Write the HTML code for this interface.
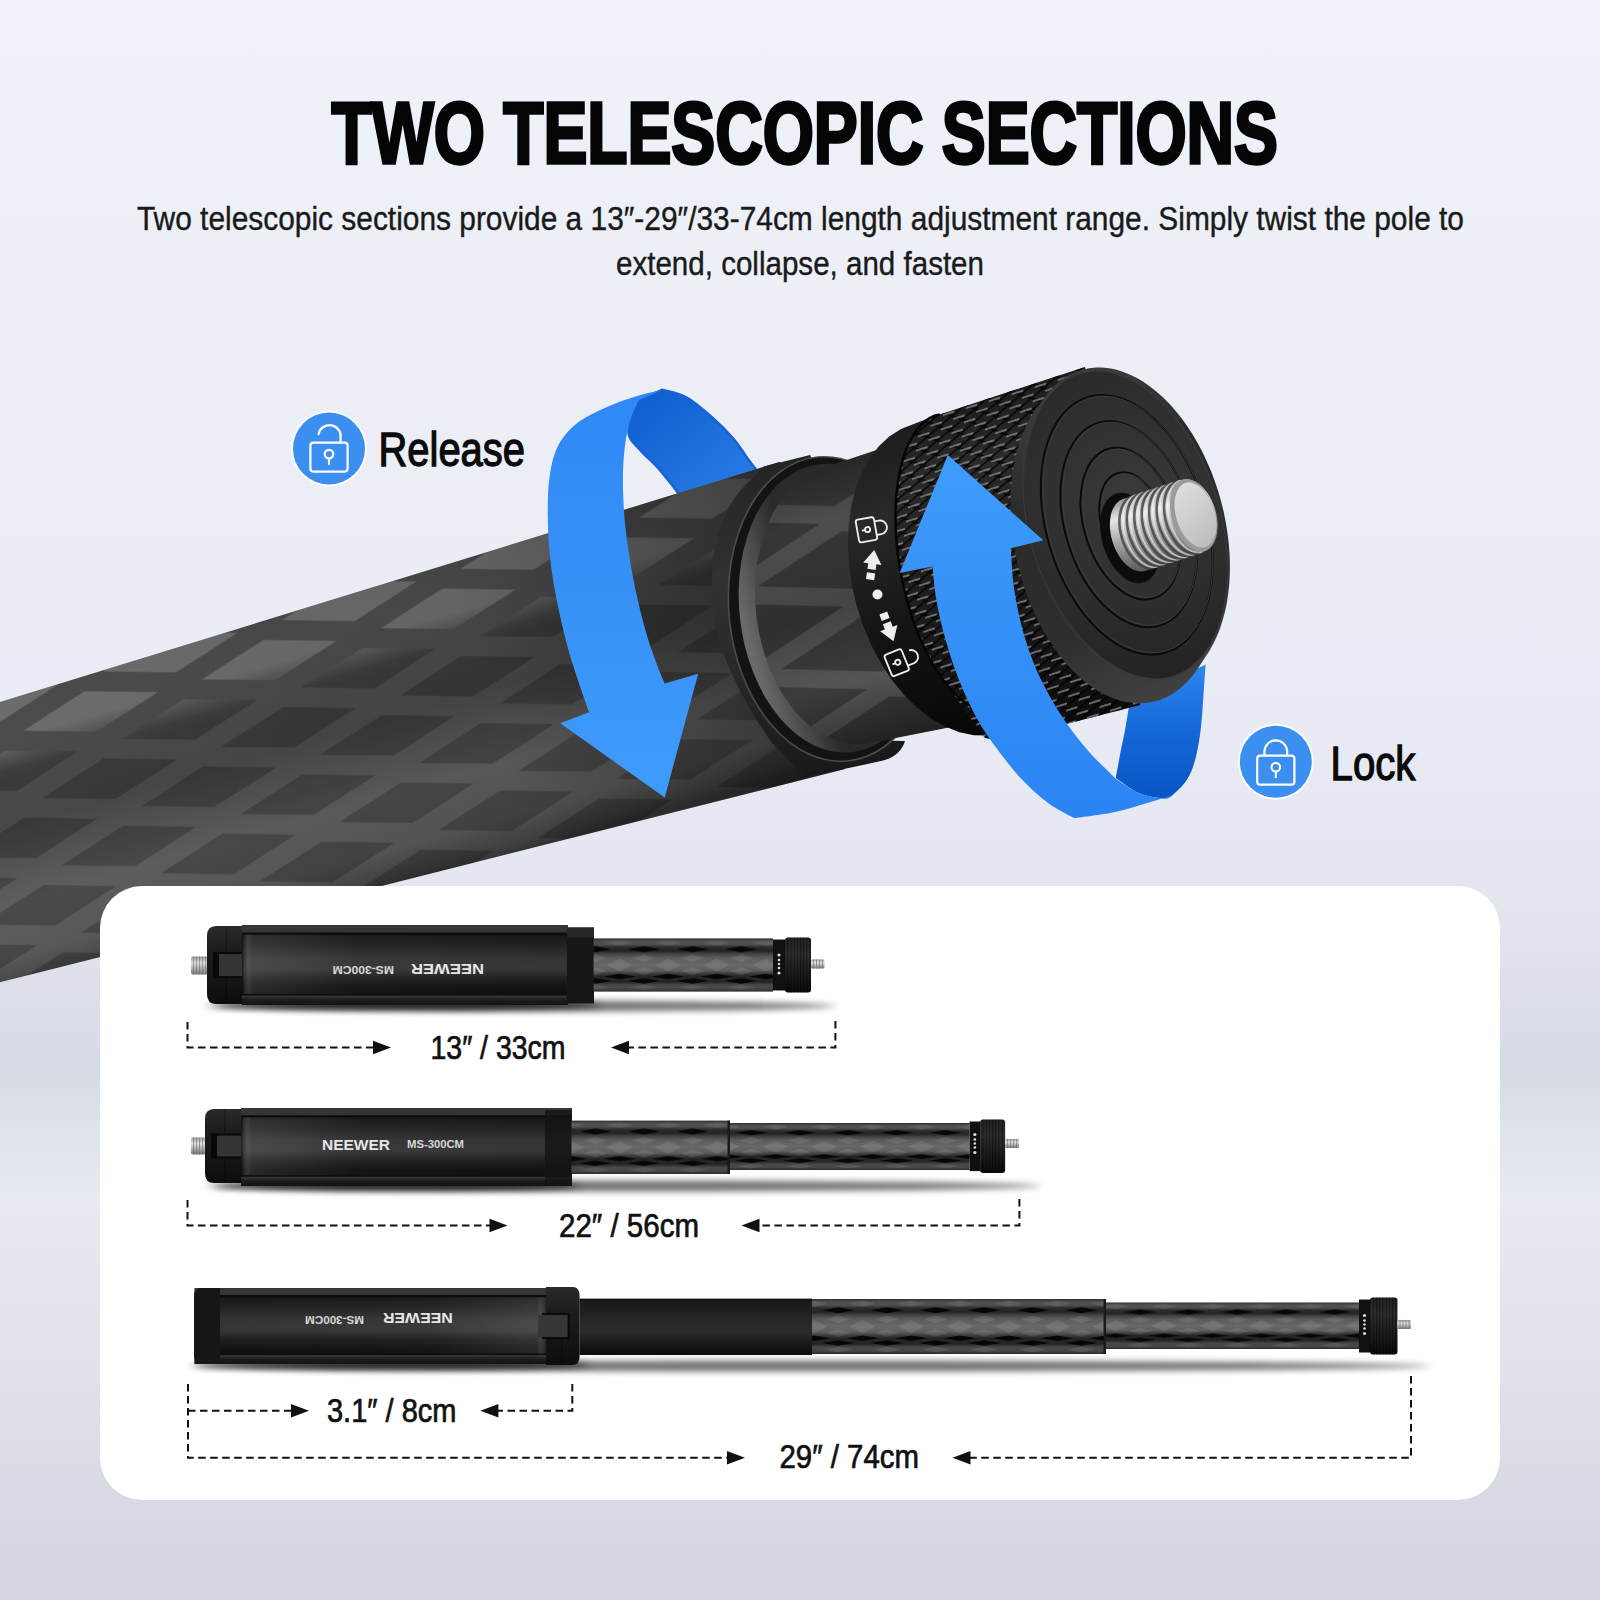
<!DOCTYPE html>
<html><head><meta charset="utf-8"><title>Two Telescopic Sections</title>
<style>
html,body{margin:0;padding:0;background:#e9edf5;}
body{width:1600px;height:1600px;overflow:hidden;font-family:"Liberation Sans", sans-serif;}
svg{display:block}
text{font-family:"Liberation Sans", sans-serif;}
</style></head><body>
<svg width="1600" height="1600" viewBox="0 0 1600 1600">
<defs>
<linearGradient id="bg" x1="0" y1="0" x2="0" y2="1"><stop offset="0.0000" stop-color="#eff2f8"/><stop offset="0.4375" stop-color="#e9ecf4"/><stop offset="0.5625" stop-color="#e3e6ee"/><stop offset="0.6250" stop-color="#dcdfe7"/><stop offset="0.6687" stop-color="#d6dae2"/><stop offset="0.7063" stop-color="#dfe3ea"/><stop offset="0.7500" stop-color="#e7eaf1"/><stop offset="0.8438" stop-color="#e0e3ea"/><stop offset="0.9375" stop-color="#d8dbe3"/><stop offset="1.0000" stop-color="#d3d6de"/></linearGradient>
<radialGradient id="vig" cx="0.5" cy="0.4" r="0.75"><stop offset="0.6" stop-color="#c8cfdb" stop-opacity="0"/><stop offset="1" stop-color="#c0c8d6" stop-opacity="0.10"/></radialGradient>

<linearGradient id="tubeG" gradientUnits="userSpaceOnUse" x1="400" y1="575" x2="482" y2="862">
 <stop offset="0" stop-color="#4a4a4a"/><stop offset="0.10" stop-color="#4c4c4c"/><stop offset="0.28" stop-color="#4a4a4a"/>
 <stop offset="0.45" stop-color="#484848"/><stop offset="0.7" stop-color="#5e5e5e"/><stop offset="0.88" stop-color="#585858"/><stop offset="0.97" stop-color="#444"/><stop offset="1" stop-color="#383838"/>
</linearGradient>
<linearGradient id="tubeDark" gradientUnits="userSpaceOnUse" x1="0" y1="800" x2="800" y2="560">
 <stop offset="0" stop-color="#000" stop-opacity="0"/><stop offset="0.6" stop-color="#000" stop-opacity="0.08"/><stop offset="1" stop-color="#000" stop-opacity="0.42"/>
</linearGradient>
<pattern id="carbonD" width="186" height="70" patternUnits="userSpaceOnUse" patternTransform="translate(30,838) rotate(-16)">
 <path d="M23.0,35.0 L93.0,14.0 L163.0,35.0 L93.0,56.0 Z M-70,0 L0,-21 L70,0 L0,21 Z M116,0 L186,-21 L256,0 L186,21 Z M-70,70 L0,49 L70,70 L0,91 Z M116,70 L186,49 L256,70 L186,91 Z" fill="#000" fill-opacity="0.21"/>
</pattern>
<pattern id="carbonL" width="186" height="70" patternUnits="userSpaceOnUse" patternTransform="translate(30,838) rotate(-16)">
 <path d="M23.0,35.0 L93.0,14.0 L163.0,35.0 L93.0,56.0 Z M-70,0 L0,-21 L70,0 L0,21 Z M116,0 L186,-21 L256,0 L186,21 Z M-70,70 L0,49 L70,70 L0,91 Z M116,70 L186,49 L256,70 L186,91 Z" fill="#fff" fill-opacity="0.19"/>
</pattern>
<linearGradient id="mTopG" gradientUnits="userSpaceOnUse" x1="400" y1="575" x2="482" y2="862">
 <stop offset="0" stop-color="#fff"/><stop offset="0.17" stop-color="#fff"/><stop offset="0.27" stop-color="#000"/><stop offset="1" stop-color="#000"/>
</linearGradient>
<linearGradient id="mBotG" gradientUnits="userSpaceOnUse" x1="400" y1="575" x2="482" y2="862">
 <stop offset="0" stop-color="#000"/><stop offset="0.17" stop-color="#000"/><stop offset="0.30" stop-color="#fff"/><stop offset="1" stop-color="#fff"/>
</linearGradient>
<mask id="mTop" maskUnits="userSpaceOnUse" x="-10" y="300" width="1000" height="800"><rect x="-10" y="300" width="1000" height="800" fill="url(#mTopG)"/></mask>
<mask id="mBot" maskUnits="userSpaceOnUse" x="-10" y="300" width="1000" height="800"><rect x="-10" y="300" width="1000" height="800" fill="url(#mBotG)"/></mask>
<linearGradient id="blueFront" x1="0" y1="0" x2="0" y2="1"><stop offset="0" stop-color="#2f88f4"/><stop offset="1" stop-color="#3f9bfb"/></linearGradient>
<linearGradient id="blueFrontR" x1="0" y1="0" x2="0" y2="1"><stop offset="0" stop-color="#3f9bfb"/><stop offset="1" stop-color="#2a84f2"/></linearGradient>
<linearGradient id="blueBack" x1="0" y1="0" x2="1" y2="1"><stop offset="0" stop-color="#0c5ccb"/><stop offset="1" stop-color="#2b7fe9"/></linearGradient>
<linearGradient id="blueBack2" x1="0" y1="0" x2="0" y2="1"><stop offset="0" stop-color="#2e86ee"/><stop offset="0.5" stop-color="#1467d8"/><stop offset="1" stop-color="#0855c4"/></linearGradient>
<linearGradient id="knobG" gradientUnits="userSpaceOnUse" x1="960" y1="400" x2="1060" y2="740">
 <stop offset="0" stop-color="#1c1c1c"/><stop offset="0.18" stop-color="#2b2b2b"/><stop offset="0.45" stop-color="#1f1f1f"/><stop offset="0.8" stop-color="#141414"/><stop offset="1" stop-color="#0b0b0b"/>
</linearGradient>
<linearGradient id="ringG" gradientUnits="userSpaceOnUse" x1="880" y1="440" x2="960" y2="740">
 <stop offset="0" stop-color="#1e1e1e"/><stop offset="0.25" stop-color="#292929"/><stop offset="0.6" stop-color="#141414"/><stop offset="1" stop-color="#070707"/>
</linearGradient>
<linearGradient id="innerG" gradientUnits="userSpaceOnUse" x1="840" y1="455" x2="920" y2="740">
 <stop offset="0" stop-color="#363636"/><stop offset="0.2" stop-color="#4e4e4e"/><stop offset="0.5" stop-color="#444"/><stop offset="0.75" stop-color="#555"/><stop offset="1" stop-color="#2c2c2c"/>
</linearGradient>
<linearGradient id="collarG" gradientUnits="userSpaceOnUse" x1="760" y1="470" x2="830" y2="780">
 <stop offset="0" stop-color="#242424"/><stop offset="0.3" stop-color="#323232"/><stop offset="0.6" stop-color="#282828"/><stop offset="1" stop-color="#181818"/>
</linearGradient>
<linearGradient id="gapG" gradientUnits="userSpaceOnUse" x1="740" y1="600" x2="800" y2="590">
 <stop offset="0" stop-color="#6a6a6a"/><stop offset="1" stop-color="#2a2a2a"/>
</linearGradient>
<linearGradient id="rimG" gradientUnits="userSpaceOnUse" x1="1040" y1="400" x2="1180" y2="690">
 <stop offset="0" stop-color="#3c3c3c"/><stop offset="0.3" stop-color="#2a2a2a"/><stop offset="0.7" stop-color="#2e2e2e"/><stop offset="1" stop-color="#414141"/></linearGradient>
<radialGradient id="faceG" gradientUnits="userSpaceOnUse" cx="1140" cy="500" r="190"><stop offset="0" stop-color="#3a3a3a"/><stop offset="0.55" stop-color="#2e2e2e"/><stop offset="1" stop-color="#222"/></radialGradient>
<linearGradient id="screwG" gradientUnits="userSpaceOnUse" x1="1150" y1="490" x2="1170" y2="565">
 <stop offset="0" stop-color="#8e8e8e"/><stop offset="0.25" stop-color="#e6e6e6"/><stop offset="0.55" stop-color="#a6a6a6"/><stop offset="1" stop-color="#565656"/>
</linearGradient>
<linearGradient id="screwTip" gradientUnits="userSpaceOnUse" x1="1175" y1="480" x2="1215" y2="560">
 <stop offset="0" stop-color="#e2e2e2"/><stop offset="1" stop-color="#b4b4b4"/>
</linearGradient>
<pattern id="carbonI" width="230" height="86" patternUnits="userSpaceOnUse" patternTransform="translate(850,560) rotate(-16)">
 <path d="M19.0,43.0 L115.0,13.0 L211.0,43.0 L115.0,73.0 Z M-96,0 L0,-30 L96,0 L0,30 Z M134,0 L230,-30 L326,0 L230,30 Z M-96,86 L0,56 L96,86 L0,116 Z M134,86 L230,56 L326,86 L230,116 Z" fill="#000" fill-opacity="0.30"/>
</pattern>
<pattern id="knurl" width="24" height="13" patternUnits="userSpaceOnUse" patternTransform="rotate(-17) skewX(-25)">
 <path d="M0,0 L24,13 M0,13 L24,0" stroke="#000" stroke-width="1.8" stroke-opacity="0.8"/>
 <path d="M2,3.2 L14,3.2 M14,9.7 L26,9.7 M-10,9.7 L2,9.7" stroke="#9a9a9a" stroke-width="1.7" stroke-opacity="0.75"/>
</pattern>

<clipPath id="collarClip"><path d="M600,300 L1000,300 L1000,731.1 L600,832.0 Z"/></clipPath>

<linearGradient id="bodyG" x1="0" y1="0" x2="0" y2="1">
 <stop offset="0" stop-color="#363636"/><stop offset="0.09" stop-color="#343434"/><stop offset="0.10" stop-color="#060606"/><stop offset="0.14" stop-color="#181818"/>
 <stop offset="0.28" stop-color="#242424"/><stop offset="0.42" stop-color="#343434"/><stop offset="0.55" stop-color="#363636"/><stop offset="0.68" stop-color="#1e1e1e"/><stop offset="0.8" stop-color="#111"/>
 <stop offset="0.875" stop-color="#0e0e0e"/><stop offset="0.89" stop-color="#363636"/><stop offset="0.93" stop-color="#1e1e1e"/><stop offset="1" stop-color="#141414"/>
</linearGradient>
<linearGradient id="bodyHL" x1="0" y1="0" x2="1" y2="0">
 <stop offset="0" stop-color="#000" stop-opacity="0.5"/><stop offset="0.03" stop-color="#fff" stop-opacity="0.10"/><stop offset="0.35" stop-color="#fff" stop-opacity="0.02"/><stop offset="1" stop-color="#fff" stop-opacity="0"/>
</linearGradient>
<linearGradient id="bodyHLr" x1="1" y1="0" x2="0" y2="0">
 <stop offset="0" stop-color="#000" stop-opacity="0.5"/><stop offset="0.03" stop-color="#fff" stop-opacity="0.10"/><stop offset="0.35" stop-color="#fff" stop-opacity="0.02"/><stop offset="1" stop-color="#fff" stop-opacity="0"/>
</linearGradient>
<linearGradient id="capG" x1="0" y1="0" x2="0" y2="1">
 <stop offset="0" stop-color="#2a2a2a"/><stop offset="0.3" stop-color="#1d1d1d"/><stop offset="1" stop-color="#0d0d0d"/>
</linearGradient>
<linearGradient id="cfG" x1="0" y1="0" x2="0" y2="1">
 <stop offset="0" stop-color="#2e2e2e"/><stop offset="0.05" stop-color="#505050"/><stop offset="0.12" stop-color="#4c4c4c"/><stop offset="0.165" stop-color="#2c2c2c"/>
 <stop offset="0.235" stop-color="#242424"/><stop offset="0.29" stop-color="#424242"/><stop offset="0.36" stop-color="#5a5a5a"/><stop offset="0.5" stop-color="#686868"/>
 <stop offset="0.6" stop-color="#5e5e5e"/><stop offset="0.66" stop-color="#3c3c3c"/><stop offset="0.72" stop-color="#242424"/><stop offset="0.82" stop-color="#262626"/>
 <stop offset="0.875" stop-color="#484848"/><stop offset="0.95" stop-color="#454545"/><stop offset="1" stop-color="#2a2a2a"/>
</linearGradient>
<linearGradient id="sleeveG" x1="0" y1="0" x2="0" y2="1">
 <stop offset="0" stop-color="#161616"/><stop offset="0.4" stop-color="#272727"/><stop offset="0.6" stop-color="#2a2a2a"/><stop offset="0.85" stop-color="#151515"/><stop offset="1" stop-color="#0c0c0c"/>
</linearGradient>
<linearGradient id="sknobG" x1="0" y1="0" x2="0" y2="1">
 <stop offset="0" stop-color="#222"/><stop offset="0.3" stop-color="#2e2e2e"/><stop offset="1" stop-color="#0a0a0a"/>
</linearGradient>
<linearGradient id="sscrewG" x1="0" y1="0" x2="0" y2="1">
 <stop offset="0" stop-color="#9a9a9a"/><stop offset="0.35" stop-color="#e4e4e4"/><stop offset="1" stop-color="#777"/>
</linearGradient>
<pattern id="cfP" width="48" height="30" patternUnits="userSpaceOnUse">
 <path d="M0,15 L24,5 L48,15 L24,25 Z" fill="#fff" fill-opacity="0.10"/>
 <path d="M-24,0 L0,-10 L24,0 L0,10 Z M24,0 L48,-10 L72,0 L48,10 Z M-24,30 L0,20 L24,30 L0,40 Z M24,30 L48,20 L72,30 L48,40 Z" fill="#000" fill-opacity="0.35"/>
</pattern>
<filter id="shBlur" x="-10%" y="-200%" width="120%" height="500%"><feGaussianBlur stdDeviation="5 3"/></filter>
<pattern id="sknurl" width="3.2" height="80" patternUnits="userSpaceOnUse"><rect x="0" y="0" width="1.1" height="80" fill="#000" fill-opacity="0.45"/></pattern>

<pattern id="cf1" width="48.6" height="73.20" patternUnits="userSpaceOnUse" patternTransform="translate(0,938.4)">
 <path d="M-4.37,10.91 L12.15,7.98 L28.67,10.91 L12.15,13.83 Z M44.23,10.91 L60.75,7.98 L77.27,10.91 L60.75,13.83 Z M19.93,38.04 L36.45,35.38 L52.97,38.04 L36.45,40.70 Z M-28.67,38.04 L-12.15,35.38 L4.37,38.04 L-12.15,40.70 Z M-4.37,42.56 L12.15,39.90 L28.67,42.56 L12.15,45.22 Z M44.23,42.56 L60.75,39.90 L77.27,42.56 L60.75,45.22 Z" fill="#040404" fill-opacity="0.95"/>
 <path d="M23.33,26.60 L36.45,20.22 L49.57,26.60 L36.45,32.98 Z M0.49,19.68 L12.15,15.96 L23.81,19.68 L12.15,23.41 Z M0.49,32.98 L12.15,29.26 L23.81,32.98 L12.15,36.71 Z M49.09,19.68 L60.75,15.96 L72.41,19.68 L60.75,23.41 Z M49.09,32.98 L60.75,29.26 L72.41,32.98 L60.75,36.71 Z M21.87,4.52 L36.45,1.86 L51.03,4.52 L36.45,7.18 Z M-2.43,48.94 L12.15,46.28 L26.73,48.94 L12.15,51.60 Z M46.17,48.94 L60.75,46.28 L75.33,48.94 L60.75,51.60 Z" fill="#fff" fill-opacity="0.09"/>
</pattern>
<pattern id="cf2a" width="48.6" height="73.40" patternUnits="userSpaceOnUse" patternTransform="translate(0,1120.6)">
 <path d="M-4.37,10.95 L12.15,8.01 L28.67,10.95 L12.15,13.88 Z M44.23,10.95 L60.75,8.01 L77.27,10.95 L60.75,13.88 Z M19.93,38.18 L36.45,35.51 L52.97,38.18 L36.45,40.85 Z M-28.67,38.18 L-12.15,35.51 L4.37,38.18 L-12.15,40.85 Z M-4.37,42.72 L12.15,40.05 L28.67,42.72 L12.15,45.39 Z M44.23,42.72 L60.75,40.05 L77.27,42.72 L60.75,45.39 Z" fill="#040404" fill-opacity="0.95"/>
 <path d="M23.33,26.70 L36.45,20.29 L49.57,26.70 L36.45,33.11 Z M0.49,19.76 L12.15,16.02 L23.81,19.76 L12.15,23.50 Z M0.49,33.11 L12.15,29.37 L23.81,33.11 L12.15,36.85 Z M49.09,19.76 L60.75,16.02 L72.41,19.76 L60.75,23.50 Z M49.09,33.11 L60.75,29.37 L72.41,33.11 L60.75,36.85 Z M21.87,4.54 L36.45,1.87 L51.03,4.54 L36.45,7.21 Z M-2.43,49.13 L12.15,46.46 L26.73,49.13 L12.15,51.80 Z M46.17,49.13 L60.75,46.46 L75.33,49.13 L60.75,51.80 Z" fill="#fff" fill-opacity="0.09"/>
</pattern>
<pattern id="cf2b" width="48.6" height="67.00" patternUnits="userSpaceOnUse" patternTransform="translate(10,1123)">
 <path d="M-4.37,9.63 L12.15,7.05 L28.67,9.63 L12.15,12.22 Z M44.23,9.63 L60.75,7.05 L77.27,9.63 L60.75,12.22 Z M19.93,33.60 L36.45,31.25 L52.97,33.60 L36.45,35.95 Z M-28.67,33.60 L-12.15,31.25 L4.37,33.60 L-12.15,35.95 Z M-4.37,37.60 L12.15,35.25 L28.67,37.60 L12.15,39.95 Z M44.23,37.60 L60.75,35.25 L77.27,37.60 L60.75,39.95 Z" fill="#040404" fill-opacity="0.95"/>
 <path d="M23.33,23.50 L36.45,17.86 L49.57,23.50 L36.45,29.14 Z M0.49,17.39 L12.15,14.10 L23.81,17.39 L12.15,20.68 Z M0.49,29.14 L12.15,25.85 L23.81,29.14 L12.15,32.43 Z M49.09,17.39 L60.75,14.10 L72.41,17.39 L60.75,20.68 Z M49.09,29.14 L60.75,25.85 L72.41,29.14 L60.75,32.43 Z M21.87,4.00 L36.45,1.65 L51.03,4.00 L36.45,6.35 Z M-2.43,43.24 L12.15,40.89 L26.73,43.24 L12.15,45.59 Z M46.17,43.24 L60.75,40.89 L75.33,43.24 L60.75,45.59 Z" fill="#fff" fill-opacity="0.09"/>
</pattern>
<pattern id="cf3a" width="48.6" height="75.00" patternUnits="userSpaceOnUse" patternTransform="translate(0,1299)">
 <path d="M-4.37,11.27 L12.15,8.25 L28.67,11.27 L12.15,14.30 Z M44.23,11.27 L60.75,8.25 L77.27,11.27 L60.75,14.30 Z M19.93,39.32 L36.45,36.57 L52.97,39.32 L36.45,42.07 Z M-28.67,39.32 L-12.15,36.57 L4.37,39.32 L-12.15,42.07 Z M-4.37,44.00 L12.15,41.25 L28.67,44.00 L12.15,46.75 Z M44.23,44.00 L60.75,41.25 L77.27,44.00 L60.75,46.75 Z" fill="#040404" fill-opacity="0.95"/>
 <path d="M23.33,27.50 L36.45,20.90 L49.57,27.50 L36.45,34.10 Z M0.49,20.35 L12.15,16.50 L23.81,20.35 L12.15,24.20 Z M0.49,34.10 L12.15,30.25 L23.81,34.10 L12.15,37.95 Z M49.09,20.35 L60.75,16.50 L72.41,20.35 L60.75,24.20 Z M49.09,34.10 L60.75,30.25 L72.41,34.10 L60.75,37.95 Z M21.87,4.68 L36.45,1.93 L51.03,4.68 L36.45,7.43 Z M-2.43,50.60 L12.15,47.85 L26.73,50.60 L12.15,53.35 Z M46.17,50.60 L60.75,47.85 L75.33,50.60 L60.75,53.35 Z" fill="#fff" fill-opacity="0.09"/>
</pattern>
<pattern id="cf3b" width="48.6" height="66.50" patternUnits="userSpaceOnUse" patternTransform="translate(10,1302.5)">
 <path d="M-4.37,9.53 L12.15,6.97 L28.67,9.53 L12.15,12.09 Z M44.23,9.53 L60.75,6.97 L77.27,9.53 L60.75,12.09 Z M19.93,33.25 L36.45,30.92 L52.97,33.25 L36.45,35.57 Z M-28.67,33.25 L-12.15,30.92 L4.37,33.25 L-12.15,35.57 Z M-4.37,37.20 L12.15,34.88 L28.67,37.20 L12.15,39.53 Z M44.23,37.20 L60.75,34.88 L77.27,37.20 L60.75,39.53 Z" fill="#040404" fill-opacity="0.95"/>
 <path d="M23.33,23.25 L36.45,17.67 L49.57,23.25 L36.45,28.83 Z M0.49,17.20 L12.15,13.95 L23.81,17.20 L12.15,20.46 Z M0.49,28.83 L12.15,25.57 L23.81,28.83 L12.15,32.09 Z M49.09,17.20 L60.75,13.95 L72.41,17.20 L60.75,20.46 Z M49.09,28.83 L60.75,25.57 L72.41,28.83 L60.75,32.09 Z M21.87,3.95 L36.45,1.63 L51.03,3.95 L36.45,6.28 Z M-2.43,42.78 L12.15,40.45 L26.73,42.78 L12.15,45.11 Z M46.17,42.78 L60.75,40.45 L75.33,42.78 L60.75,45.11 Z" fill="#fff" fill-opacity="0.09"/>
</pattern>
</defs>
<rect width="1600" height="1600" fill="url(#bg)"/>
<path d="M662.0,389.8 C666.1,391.1 678.5,393.0 686.7,397.5 C694.9,402.0 703.7,409.9 711.4,416.7 C719.2,423.6 727.5,431.9 733.4,438.7 C739.4,445.6 743.1,452.4 747.2,458.0 C751.3,463.6 756.3,469.9 758.2,472.3 L679.8,495.1 L679.8,495.1 C678.2,493.0 674.1,487.5 670.2,482.7 C666.3,477.9 661.5,471.7 656.5,466.2 C651.4,460.7 644.6,455.5 640.0,449.7 C635.3,444.0 628.6,440.1 628.4,431.9 C628.2,423.6 636.9,405.5 638.6,400.2 Z" fill="url(#blueBack)" stroke="#1563d6" stroke-width="2.5" stroke-linejoin="round"/>
<path d="M1130.0,701.7 C1129.7,703.1 1129.2,705.3 1128.4,709.9 C1127.6,714.5 1126.5,722.1 1125.1,729.4 C1123.8,736.7 1121.8,745.6 1120.2,753.7 C1118.7,761.9 1116.5,774.1 1115.7,778.1 L1115.7,778.1 C1119.4,780.6 1130.3,789.4 1138.1,792.7 C1145.9,796.1 1156.8,798.0 1162.5,798.4 C1168.2,798.8 1168.2,798.3 1172.2,795.2 C1176.3,792.1 1183.1,785.6 1186.9,779.7 C1190.7,773.9 1192.7,768.6 1195.0,760.2 C1197.3,751.9 1199.2,741.3 1200.7,729.4 C1202.2,717.5 1203.1,699.6 1203.9,688.7 C1204.7,677.9 1205.3,668.4 1205.6,664.4 Z" fill="url(#blueBack2)"/>
<path d="M-5,703.5 L780,461.8 L845,769 L-5,983.5 Z" fill="url(#tubeG)"/>
<path d="M-5,703.5 L780,461.8 L845,769 L-5,983.5 Z" fill="url(#carbonD)" mask="url(#mBot)"/>
<path d="M-5,703.5 L780,461.8 L845,769 L-5,983.5 Z" fill="url(#carbonL)" mask="url(#mTop)"/>
<path d="M-5,703.5 L780,461.8 L845,769 L-5,983.5 Z" fill="url(#tubeDark)"/>
<path d="M764.2,466.5 C759.3,471.7 742.5,486.7 735.0,497.5 C727.5,508.3 722.9,519.5 719.2,531.2 C715.5,543.0 713.7,554.9 712.6,568.0 C711.5,581.1 710.9,596.3 712.5,610.0 C714.1,623.7 716.6,635.0 722.0,650.0 C727.4,665.0 737.0,685.0 745.0,700.0 C753.0,715.0 763.5,730.8 770.0,740.0 C776.5,749.2 778.0,748.8 784.0,755.0 C790.0,761.2 802.3,773.3 806.0,777.0 L884,760.5 Q901,755 905,741 L846,740 L832,500 L810,455 Z" fill="url(#collarG)" clip-path="url(#collarClip)"/>
<ellipse cx="832.6" cy="609.0" rx="103.7" ry="152.7" transform="rotate(-5.70 832.6 609.0)" fill="#131313" stroke="#4c4c4c" stroke-width="1.6"/>
<ellipse cx="835.6" cy="608.2" rx="96.2" ry="144.9" transform="rotate(-6.50 835.6 608.2)" fill="url(#gapG)" />
<path d="M755.1,597.5 L755.4,579.4 L757.3,561.7 L760.8,544.8 L765.8,529.0 L772.2,514.4 L779.9,501.4 L788.8,490.1 L798.7,480.9 L809.4,473.7 L820.9,468.8 L906.4,439.9 L917.6,436.2 L929.5,435.0 L941.6,436.2 L953.8,439.9 L966.0,445.9 L977.8,454.2 L989.1,464.7 L999.8,477.1 L1009.5,491.3 L1018.2,507.0 L1025.7,523.9 L1031.8,541.7 L1036.5,560.2 L1039.8,579.0 L1041.4,597.8 L1041.4,616.3 L1039.9,634.1 L1036.7,651.0 L1032.1,666.7 L1026.0,680.8 L1018.6,693.3 L1009.9,703.7 L1000.2,712.1 L989.6,718.1 L978.4,721.8 L864.4,744.1 L852.2,744.3 L840.0,742.1 L827.9,737.6 L816.2,730.8 L805.0,721.8 L794.6,710.9 L785.0,698.1 L776.6,683.8 L769.4,668.1 L763.6,651.3 L759.2,633.8 L756.4,615.7 Z" fill="url(#innerG)"/>
<path d="M755.1,597.5 L755.4,579.4 L757.3,561.7 L760.8,544.8 L765.8,529.0 L772.2,514.4 L779.9,501.4 L788.8,490.1 L798.7,480.9 L809.4,473.7 L820.9,468.8 L906.4,439.9 L917.6,436.2 L929.5,435.0 L941.6,436.2 L953.8,439.9 L966.0,445.9 L977.8,454.2 L989.1,464.7 L999.8,477.1 L1009.5,491.3 L1018.2,507.0 L1025.7,523.9 L1031.8,541.7 L1036.5,560.2 L1039.8,579.0 L1041.4,597.8 L1041.4,616.3 L1039.9,634.1 L1036.7,651.0 L1032.1,666.7 L1026.0,680.8 L1018.6,693.3 L1009.9,703.7 L1000.2,712.1 L989.6,718.1 L978.4,721.8 L864.4,744.1 L852.2,744.3 L840.0,742.1 L827.9,737.6 L816.2,730.8 L805.0,721.8 L794.6,710.9 L785.0,698.1 L776.6,683.8 L769.4,668.1 L763.6,651.3 L759.2,633.8 L756.4,615.7 Z" fill="url(#carbonI)"/>
<path d="M847.9,545.6 L848.6,525.8 L851.1,506.9 L855.5,489.3 L861.6,473.1 L869.4,458.8 L878.6,446.5 L889.2,436.5 L901.0,428.9 L913.7,423.9 L931.2,417.3 L939.7,414.4 L948.6,414.0 L957.9,416.1 L967.4,420.8 L976.9,427.9 L1010.6,461.8 L1022.7,476.6 L1033.6,493.1 L1043.3,511.0 L1051.4,530.1 L1058.0,550.1 L1062.9,570.5 L1065.9,591.0 L1067.1,611.4 L1066.4,631.2 L1063.9,650.1 L1059.5,667.7 L1053.4,683.9 L1045.7,698.2 L1036.4,710.5 L1025.8,720.5 L1014.0,728.1 L1001.3,733.1 L987.8,735.5 L973.8,735.2 L959.5,732.2 L945.1,726.6 L931.0,718.5 L917.4,708.0 L904.4,695.2 L892.3,680.4 L881.4,664.0 L871.7,646.0 L863.6,626.9 L857.0,606.9 L852.1,586.5 L849.1,566.0 Z" fill="url(#ringG)"/>
<path d="M895.5,517.8 L896.0,499.6 L897.8,482.6 L900.8,466.9 L904.9,452.8 L910.1,440.6 L916.3,430.6 L923.4,422.7 L931.2,417.3 L939.7,414.4 L1085.0,367.0 L1140.0,705.0 L1000.0,741.0 L985.0,738.0 L940.8,676.8 L932.2,663.3 L924.3,648.0 L917.1,631.4 L910.8,613.5 L905.5,594.8 L901.2,575.5 L898.1,556.1 L896.2,536.7 Z" fill="url(#knobG)"/>
<path d="M895.5,517.8 L896.0,499.6 L897.8,482.6 L900.8,466.9 L904.9,452.8 L910.1,440.6 L916.3,430.6 L923.4,422.7 L931.2,417.3 L939.7,414.4 L1085.0,367.0 L1140.0,705.0 L1000.0,741.0 L985.0,738.0 L940.8,676.8 L932.2,663.3 L924.3,648.0 L917.1,631.4 L910.8,613.5 L905.5,594.8 L901.2,575.5 L898.1,556.1 L896.2,536.7 Z" fill="url(#knurl)"/>
<path d="M996.3,711.2 L991.0,711.8 L985.5,711.4 L979.9,710.1 L974.3,707.9 L968.6,704.8 L962.9,700.8 L957.2,696.0 L951.6,690.4 L946.2,683.9 L940.8,676.8 L935.6,668.9 L930.6,660.3 L925.8,651.2 L921.3,641.5 L917.1,631.4 L913.2,620.8 L909.7,609.8 L906.5,598.6 L903.6,587.1 L901.2,575.5 L899.2,563.9 L897.6,552.2 L896.4,540.5 L895.7,529.1 L895.5,517.8 L895.6,506.8 L896.3,496.1 L897.3,485.9 L898.8,476.1 L900.8,466.9 L903.1,458.2 L905.8,450.2 L909.0,442.9 L912.5,436.3 L916.3,430.6 L920.4,425.6 L924.9,421.5 L929.6,418.2 L934.5,415.8 L939.7,414.4" fill="none" stroke="#050505" stroke-width="2.5"/>
<path d="M1010.6,499.1 L1011.0,488.9 L1011.9,478.9 L1013.2,469.1 L1015.0,459.6 L1017.2,450.5 L1019.8,441.7 L1022.9,433.4 L1026.3,425.6 L1030.1,418.2 L1034.3,411.3 L1038.9,405.0 L1044.7,397.2 L1049.3,391.4 L1054.2,386.2 L1059.4,381.6 L1064.9,377.6 L1070.6,374.3 L1076.6,371.6 L1082.8,369.6 L1089.2,368.2 L1095.7,367.5 L1102.4,367.6 L1109.1,368.3 L1115.9,369.6 L1122.8,371.7 L1129.6,374.4 L1136.5,377.8 L1143.3,381.8 L1150.0,386.4 L1156.6,391.7 L1163.1,397.5 L1169.4,403.8 L1175.5,410.7 L1181.4,418.1 L1187.1,426.0 L1192.5,434.3 L1197.6,443.0 L1202.4,452.0 L1206.8,461.4 L1211.0,471.0 L1214.7,480.9 L1218.1,491.0 L1221.0,501.3 L1223.6,511.6 L1225.7,522.0 L1227.4,532.5 L1228.7,542.9 L1229.5,553.2 L1229.9,563.5 L1229.8,573.6 L1229.3,583.4 L1228.3,593.1 L1226.9,602.4 L1225.0,611.5 L1222.7,620.1 L1220.0,628.4 L1216.9,636.2 L1213.4,643.6 L1209.6,650.5 L1197.7,668.7 L1193.1,675.0 L1188.3,680.7 L1183.1,685.8 L1177.6,690.3 L1171.9,694.2 L1165.9,697.4 L1159.7,699.9 L1153.3,701.8 L1146.8,702.9 L1140.1,703.3 L1133.4,703.1 L1126.5,702.1 L1119.7,700.5 L1112.7,698.1 L1105.8,695.1 L1099.0,691.5 L1092.2,687.1 L1085.6,682.2 L1079.0,676.6 L1072.6,670.5 L1066.4,663.8 L1060.5,656.5 L1054.7,648.8 L1049.2,640.6 L1044.0,632.0 L1039.1,622.9 L1034.6,613.6 L1030.4,603.9 L1026.5,593.9 L1023.0,583.7 L1020.0,573.3 L1017.3,562.8 L1015.1,552.1 L1013.3,541.5 L1012.0,530.8 L1011.0,520.1 L1010.6,509.6 Z" fill="url(#rimG)"/>
<ellipse cx="1126.8" cy="524.8" rx="94.8" ry="158.0" transform="rotate(-17.00 1126.8 524.8)" fill="url(#faceG)" />
<ellipse cx="1125.3" cy="525.3" rx="95.4" ry="159.0" transform="rotate(-17.00 1125.3 525.3)" fill="none" stroke="#3a3a3a" stroke-width="1.2"/>
<ellipse cx="1126.8" cy="524.8" rx="80.1" ry="133.5" transform="rotate(-17.00 1126.8 524.8)" fill="none" stroke="#0a0a0a" stroke-width="2"/>
<ellipse cx="1128.0" cy="524.4" rx="79.1" ry="131.9" transform="rotate(-17.00 1128.0 524.4)" fill="none" stroke="#3c3c3c" stroke-width="0.9"/>
<ellipse cx="1128.8" cy="524.2" rx="63.6" ry="106.0" transform="rotate(-17.00 1128.8 524.2)" fill="none" stroke="#0a0a0a" stroke-width="2"/>
<ellipse cx="1130.0" cy="523.8" rx="62.6" ry="104.4" transform="rotate(-17.00 1130.0 523.8)" fill="none" stroke="#3c3c3c" stroke-width="0.9"/>
<ellipse cx="1130.8" cy="523.6" rx="46.8" ry="78.0" transform="rotate(-17.00 1130.8 523.6)" fill="none" stroke="#0a0a0a" stroke-width="2"/>
<ellipse cx="1132.0" cy="523.2" rx="45.8" ry="76.4" transform="rotate(-17.00 1132.0 523.2)" fill="none" stroke="#3c3c3c" stroke-width="0.9"/>
<ellipse cx="1132.8" cy="523.0" rx="31.2" ry="52.0" transform="rotate(-17.00 1132.8 523.0)" fill="none" stroke="#0a0a0a" stroke-width="2"/>
<ellipse cx="1134.0" cy="522.6" rx="30.2" ry="50.4" transform="rotate(-17.00 1134.0 522.6)" fill="none" stroke="#3c3c3c" stroke-width="0.9"/>
<ellipse cx="1130.0" cy="538.0" rx="27.9" ry="46.5" transform="rotate(-17.00 1130.0 538.0)" fill="#0c0c0c" />
<path d="M1109.9,522.8 L1110.3,518.4 L1111.0,514.3 L1112.2,510.6 L1113.8,507.2 L1115.6,504.4 L1117.8,502.1 L1120.3,500.3 L1123.0,499.1 L1182.5,479.6 L1185.4,479.1 L1188.5,479.2 L1191.6,479.9 L1194.8,481.1 L1197.9,483.0 L1201.0,485.5 L1203.9,488.4 L1206.7,491.9 L1209.2,495.7 L1211.5,499.9 L1213.4,504.3 L1215.0,508.9 L1216.3,513.7 L1217.1,518.4 L1217.6,523.1 L1217.6,527.7 L1217.2,532.1 L1216.5,536.2 L1215.3,540.0 L1213.8,543.3 L1211.9,546.1 L1209.7,548.4 L1207.2,550.2 L1204.5,551.4 L1145.0,570.9 L1142.1,571.4 L1139.0,571.3 L1135.9,570.6 L1132.7,569.4 L1129.6,567.5 L1126.5,565.0 L1123.6,562.0 L1120.8,558.6 L1118.3,554.8 L1116.0,550.6 L1114.1,546.2 L1112.5,541.6 L1111.2,536.8 L1110.4,532.1 L1109.9,527.4 Z" fill="url(#screwG)"/>
<path d="M1154.5,567.7 L1151.6,568.3 L1148.5,568.2 L1145.4,567.5 L1142.3,566.2 L1139.1,564.3 L1136.1,561.9 L1133.1,558.9 L1130.4,555.5 L1127.8,551.7 L1125.6,547.5 L1123.6,543.1 L1122.0,538.5 L1120.8,533.7 L1119.9,529.0 L1119.4,524.2 L1119.4,519.6 L1119.8,515.3 L1120.6,511.2 L1121.7,507.4 L1123.3,504.1 L1125.2,501.3 L1127.4,498.9 L1129.8,497.2 L1132.6,496.0" fill="none" stroke="#3e3e3e" stroke-width="2.6" stroke-opacity="0.8"/>
<path d="M1157.9,566.5 L1155.0,567.1 L1151.9,567.0 L1148.8,566.3 L1145.7,565.0 L1142.5,563.1 L1139.5,560.7 L1136.5,557.7 L1133.8,554.3 L1131.2,550.5 L1129.0,546.3 L1127.0,541.9 L1125.4,537.3 L1124.2,532.5 L1123.3,527.8 L1122.8,523.0 L1122.8,518.4 L1123.2,514.1 L1124.0,510.0 L1125.1,506.2 L1126.7,502.9 L1128.6,500.1 L1130.8,497.7 L1133.2,496.0 L1136.0,494.8" fill="none" stroke="#f4f4f4" stroke-width="1.8" stroke-opacity="0.6"/>
<path d="M1161.9,565.3 L1159.0,565.9 L1156.0,565.8 L1152.9,565.1 L1149.7,563.8 L1146.6,561.9 L1143.5,559.5 L1140.6,556.5 L1137.8,553.1 L1135.3,549.2 L1133.0,545.1 L1131.1,540.6 L1129.4,536.0 L1128.2,531.3 L1127.3,526.5 L1126.9,521.8 L1126.8,517.2 L1127.2,512.8 L1128.0,508.7 L1129.2,505.0 L1130.7,501.7 L1132.6,498.8 L1134.8,496.5 L1137.3,494.7 L1140.0,493.6" fill="none" stroke="#3e3e3e" stroke-width="2.6" stroke-opacity="0.8"/>
<path d="M1165.3,564.1 L1162.4,564.7 L1159.4,564.6 L1156.3,563.9 L1153.1,562.6 L1150.0,560.7 L1146.9,558.3 L1144.0,555.3 L1141.2,551.9 L1138.7,548.0 L1136.4,543.9 L1134.5,539.4 L1132.8,534.8 L1131.6,530.1 L1130.7,525.3 L1130.3,520.6 L1130.2,516.0 L1130.6,511.6 L1131.4,507.5 L1132.6,503.8 L1134.1,500.5 L1136.0,497.6 L1138.2,495.3 L1140.7,493.5 L1143.4,492.4" fill="none" stroke="#f4f4f4" stroke-width="1.8" stroke-opacity="0.6"/>
<path d="M1169.4,562.9 L1166.5,563.4 L1163.4,563.3 L1160.3,562.7 L1157.1,561.4 L1154.0,559.5 L1150.9,557.0 L1148.0,554.1 L1145.2,550.6 L1142.7,546.8 L1140.4,542.6 L1138.5,538.2 L1136.9,533.6 L1135.6,528.8 L1134.8,524.1 L1134.3,519.4 L1134.3,514.8 L1134.7,510.4 L1135.4,506.3 L1136.6,502.6 L1138.1,499.2 L1140.0,496.4 L1142.2,494.1 L1144.7,492.3 L1147.4,491.1" fill="none" stroke="#3e3e3e" stroke-width="2.6" stroke-opacity="0.8"/>
<path d="M1172.8,561.7 L1169.9,562.2 L1166.8,562.1 L1163.7,561.5 L1160.5,560.2 L1157.4,558.3 L1154.3,555.8 L1151.4,552.9 L1148.6,549.4 L1146.1,545.6 L1143.8,541.4 L1141.9,537.0 L1140.3,532.4 L1139.0,527.6 L1138.2,522.9 L1137.7,518.2 L1137.7,513.6 L1138.1,509.2 L1138.8,505.1 L1140.0,501.4 L1141.5,498.0 L1143.4,495.2 L1145.6,492.9 L1148.1,491.1 L1150.8,489.9" fill="none" stroke="#f4f4f4" stroke-width="1.8" stroke-opacity="0.6"/>
<path d="M1176.8,560.4 L1173.9,561.0 L1170.9,560.9 L1167.7,560.2 L1164.6,558.9 L1161.4,557.0 L1158.4,554.6 L1155.4,551.6 L1152.7,548.2 L1150.1,544.4 L1147.9,540.2 L1145.9,535.8 L1144.3,531.1 L1143.1,526.4 L1142.2,521.6 L1141.8,516.9 L1141.7,512.3 L1142.1,508.0 L1142.9,503.9 L1144.0,500.1 L1145.6,496.8 L1147.5,494.0 L1149.7,491.6 L1152.2,489.9 L1154.9,488.7" fill="none" stroke="#3e3e3e" stroke-width="2.6" stroke-opacity="0.8"/>
<path d="M1180.2,559.2 L1177.3,559.8 L1174.3,559.7 L1171.1,559.0 L1168.0,557.7 L1164.8,555.8 L1161.8,553.4 L1158.8,550.4 L1156.1,547.0 L1153.5,543.2 L1151.3,539.0 L1149.3,534.6 L1147.7,529.9 L1146.5,525.2 L1145.6,520.4 L1145.2,515.7 L1145.1,511.1 L1145.5,506.8 L1146.3,502.7 L1147.4,498.9 L1149.0,495.6 L1150.9,492.8 L1153.1,490.4 L1155.6,488.7 L1158.3,487.5" fill="none" stroke="#f4f4f4" stroke-width="1.8" stroke-opacity="0.6"/>
<path d="M1184.2,558.0 L1181.3,558.5 L1178.3,558.5 L1175.2,557.8 L1172.0,556.5 L1168.9,554.6 L1165.8,552.1 L1162.9,549.2 L1160.1,545.8 L1157.6,541.9 L1155.3,537.8 L1153.4,533.3 L1151.8,528.7 L1150.5,524.0 L1149.6,519.2 L1149.2,514.5 L1149.2,509.9 L1149.5,505.5 L1150.3,501.4 L1151.5,497.7 L1153.0,494.4 L1154.9,491.5 L1157.1,489.2 L1159.6,487.4 L1162.3,486.3" fill="none" stroke="#3e3e3e" stroke-width="2.6" stroke-opacity="0.8"/>
<path d="M1187.6,556.8 L1184.7,557.3 L1181.7,557.3 L1178.6,556.6 L1175.4,555.3 L1172.3,553.4 L1169.2,550.9 L1166.3,548.0 L1163.5,544.6 L1161.0,540.7 L1158.7,536.6 L1156.8,532.1 L1155.2,527.5 L1153.9,522.8 L1153.0,518.0 L1152.6,513.3 L1152.6,508.7 L1152.9,504.3 L1153.7,500.2 L1154.9,496.5 L1156.4,493.2 L1158.3,490.3 L1160.5,488.0 L1163.0,486.2 L1165.7,485.1" fill="none" stroke="#f4f4f4" stroke-width="1.8" stroke-opacity="0.6"/>
<path d="M1191.7,555.6 L1188.8,556.1 L1185.7,556.0 L1182.6,555.3 L1179.4,554.0 L1176.3,552.1 L1173.2,549.7 L1170.3,546.7 L1167.6,543.3 L1165.0,539.5 L1162.8,535.3 L1160.8,530.9 L1159.2,526.3 L1157.9,521.5 L1157.1,516.8 L1156.6,512.0 L1156.6,507.5 L1157.0,503.1 L1157.7,499.0 L1158.9,495.2 L1160.5,491.9 L1162.3,489.1 L1164.5,486.8 L1167.0,485.0 L1169.7,483.8" fill="none" stroke="#3e3e3e" stroke-width="2.6" stroke-opacity="0.8"/>
<path d="M1195.1,554.4 L1192.2,554.9 L1189.1,554.8 L1186.0,554.1 L1182.8,552.8 L1179.7,550.9 L1176.6,548.5 L1173.7,545.5 L1171.0,542.1 L1168.4,538.3 L1166.2,534.1 L1164.2,529.7 L1162.6,525.1 L1161.3,520.3 L1160.5,515.6 L1160.0,510.8 L1160.0,506.3 L1160.4,501.9 L1161.1,497.8 L1162.3,494.0 L1163.9,490.7 L1165.7,487.9 L1167.9,485.6 L1170.4,483.8 L1173.1,482.6" fill="none" stroke="#f4f4f4" stroke-width="1.8" stroke-opacity="0.6"/>
<path d="M1199.1,553.1 L1196.2,553.7 L1193.2,553.6 L1190.0,552.9 L1186.9,551.6 L1183.7,549.7 L1180.7,547.3 L1177.7,544.3 L1175.0,540.9 L1172.5,537.1 L1170.2,532.9 L1168.2,528.5 L1166.6,523.8 L1165.4,519.1 L1164.5,514.3 L1164.1,509.6 L1164.0,505.0 L1164.4,500.6 L1165.2,496.5 L1166.3,492.8 L1167.9,489.5 L1169.8,486.6 L1172.0,484.3 L1174.5,482.6 L1177.2,481.4" fill="none" stroke="#3e3e3e" stroke-width="2.6" stroke-opacity="0.8"/>
<path d="M1202.5,551.9 L1199.6,552.5 L1196.6,552.4 L1193.4,551.7 L1190.3,550.4 L1187.1,548.5 L1184.1,546.1 L1181.1,543.1 L1178.4,539.7 L1175.9,535.9 L1173.6,531.7 L1171.6,527.3 L1170.0,522.6 L1168.8,517.9 L1167.9,513.1 L1167.5,508.4 L1167.4,503.8 L1167.8,499.4 L1168.6,495.3 L1169.7,491.6 L1171.3,488.3 L1173.2,485.4 L1175.4,483.1 L1177.9,481.4 L1180.6,480.2" fill="none" stroke="#f4f4f4" stroke-width="1.8" stroke-opacity="0.6"/>
<ellipse cx="1193.5" cy="515.5" rx="21.8" ry="37.5" transform="rotate(-17.00 1193.5 515.5)" fill="#9a9a9a" />
<ellipse cx="1195.5" cy="514.9" rx="19.4" ry="33.5" transform="rotate(-17.00 1195.5 514.9)" fill="url(#screwTip)" />
<g transform="translate(871,529) rotate(80) scale(1.15)" fill="none" stroke="#eee" stroke-width="1.6" stroke-linejoin="round"><rect x="-10" y="-4" width="20" height="16" rx="2"/><path d="M-6,-4 V-8 A6,6 0 0 1 6,-8 V-4"/><circle cx="0" cy="3" r="2.2"/><path d="M0,5.2 V8"/></g><g transform="translate(872,566) rotate(8) scale(1.15)"><path d="M0,-14 L8,-2 L3.6,-2 L3.6,3 L-3.6,3 L-3.6,-2 L-8,-2 Z M-3.6,6 H3.6 V12 H-3.6 Z" fill="#eee"/></g><circle cx="877.5" cy="594.5" r="5" fill="#eee"/><g transform="translate(888,626) rotate(160) scale(1.15)"><path d="M0,-14 L8,-2 L3.6,-2 L3.6,3 L-3.6,3 L-3.6,-2 L-8,-2 Z M-3.6,6 H3.6 V12 H-3.6 Z" fill="#eee"/></g><g transform="translate(901,661) rotate(68) scale(1.15)" fill="none" stroke="#eee" stroke-width="1.6" stroke-linejoin="round"><rect x="-10" y="-4" width="20" height="16" rx="2"/><path d="M6,-4 V-9 A6,6 0 0 0 -6,-10"/><circle cx="0" cy="3" r="2.2"/><path d="M0,5.2 V8"/></g>
<path d="M662.0,389.8 C657.8,390.8 646.4,393.2 637.2,396.1 C628.1,399.0 617.1,402.5 607.0,407.1 C596.9,411.7 585.0,417.0 576.7,423.6 C568.5,430.3 562.1,437.6 557.5,447.0 C552.9,456.4 550.8,467.6 549.2,480.0 C547.6,492.3 547.6,507.5 547.9,521.2 C548.1,534.9 549.0,548.7 550.6,562.4 C552.2,576.2 554.7,589.9 557.5,603.7 C560.2,617.4 563.7,632.1 567.1,644.9 C570.5,657.7 574.4,669.4 578.1,680.7 C581.8,691.9 587.3,707.0 589.1,712.3 L560.2,723.3 L664.7,797.5 L698.2,673.8 L664.7,683.4 C663.6,680.7 660.6,674.2 657.8,666.9 C655.1,659.6 651.4,650.0 648.2,639.4 C645.0,628.9 641.6,616.5 638.6,603.7 C635.6,590.8 632.6,576.2 630.3,562.4 C628.1,548.7 626.1,534.9 624.8,521.2 C623.6,507.5 622.9,492.3 622.9,480.0 C622.9,467.6 623.6,457.1 624.8,447.0 C626.1,436.9 628.1,427.3 630.3,419.5 C632.6,411.7 637.2,403.4 638.6,400.2 Z" fill="url(#blueFront)"/>
<path d="M932.5,566.6 C933.2,572.2 934.3,588.4 936.5,600.7 C938.6,612.9 941.9,627.0 945.7,640.1 C949.4,653.2 953.5,666.3 958.8,679.5 C964.0,692.6 970.6,707.0 977.2,718.9 C983.7,730.7 990.7,740.3 998.2,750.4 C1005.6,760.4 1013.5,770.5 1021.8,779.3 C1030.1,788.0 1039.3,796.4 1048.1,802.9 C1056.8,809.4 1070.0,815.6 1074.3,818.1 L1074.3,818.1 C1080.8,817.1 1101.7,814.7 1113.7,812.2 C1125.7,809.8 1136.5,806.2 1146.2,803.3 C1156.0,800.5 1169.5,796.0 1172.2,795.2 C1175.0,794.4 1168.2,798.8 1162.5,798.4 C1156.8,798.0 1145.8,795.9 1138.1,792.7 C1130.4,789.6 1120.0,781.5 1116.3,779.3 L1116.3,779.3 C1115.0,778.0 1112.8,775.8 1108.5,771.4 C1104.1,767.0 1096.6,760.4 1090.1,753.0 C1083.5,745.6 1075.6,735.9 1069.1,726.7 C1062.5,717.6 1056.4,707.9 1050.7,697.9 C1045.0,687.8 1039.8,678.2 1034.9,666.3 C1030.1,654.5 1025.3,640.1 1021.8,627.0 C1018.3,613.8 1015.8,600.7 1013.9,587.6 C1012.1,574.4 1011.3,554.7 1010.8,548.2 L1043.3,540.3 L947.8,454.9 L899.7,573.1 Z" fill="url(#blueFrontR)"/>
<rect x="100" y="886" width="1400" height="614" rx="42" fill="#ffffff"/>
<ellipse cx="520.0" cy="1006" rx="315.0" ry="5.5" fill="#000" opacity="0.55" filter="url(#shBlur)"/>
<ellipse cx="407.5" cy="1005" rx="192.5" ry="4.5" fill="#000" opacity="0.75" filter="url(#shBlur)"/>
<rect x="191" y="956.5" width="17" height="18" rx="2" fill="url(#sscrewG)"/><rect x="193" y="956.5" width="1.1" height="18" fill="#666" fill-opacity="0.55"/><rect x="196" y="956.5" width="1.1" height="18" fill="#666" fill-opacity="0.55"/><rect x="199" y="956.5" width="1.1" height="18" fill="#666" fill-opacity="0.55"/><rect x="202" y="956.5" width="1.1" height="18" fill="#666" fill-opacity="0.55"/><rect x="205" y="956.5" width="1.1" height="18" fill="#666" fill-opacity="0.55"/>
<path d="M216,926 H243 V1004 H216 Q207,1004 207,994 V936 Q207,926 216,926 Z" fill="url(#capG)"/><rect x="213" y="951.91" width="30" height="26.18" fill="#080808"/><rect x="219" y="953.91" width="33" height="22.18" fill="#343434"/><rect x="225.72" y="927" width="1.2" height="24.91" fill="#000" fill-opacity="0.35"/><rect x="225.72" y="978.09" width="1.2" height="24.91" fill="#000" fill-opacity="0.35"/>
<rect x="242" y="925" width="326" height="80" fill="url(#bodyG)"/>
<rect x="242" y="934.6" width="326" height="59.2" fill="url(#bodyHL)"/>
<rect x="567" y="927.5" width="27" height="76" fill="#161616"/>
<rect x="567" y="927.5" width="27" height="10" fill="#262626"/>
<rect x="593.6" y="938.4" width="179.39999999999998" height="53.200000000000045" fill="url(#cfG)"/><rect x="593.6" y="938.4" width="179.39999999999998" height="53.200000000000045" fill="url(#cf1)"/>
<rect x="773" y="939.5" width="12" height="51" fill="#101010"/><circle cx="779.0" cy="955" r="1.6" fill="#ddd"/><circle cx="779.0" cy="960" r="1.3" fill="#ddd"/><circle cx="779.0" cy="964" r="1.2" fill="#ddd"/><circle cx="779.0" cy="968" r="1.3" fill="#ddd"/><circle cx="779.0" cy="973" r="1.6" fill="#ddd"/><rect x="785" y="937.5" width="26" height="55" rx="3" fill="url(#sknobG)"/><rect x="785" y="937.5" width="26" height="55" rx="3" fill="url(#sknurl)"/><rect x="811" y="959.4" width="13.5" height="9.2" rx="1.5" fill="url(#sscrewG)"/><rect x="813" y="959.4" width="1" height="9.2" fill="#666" fill-opacity="0.6"/><rect x="816" y="959.4" width="1" height="9.2" fill="#666" fill-opacity="0.6"/><rect x="819" y="959.4" width="1" height="9.2" fill="#666" fill-opacity="0.6"/><rect x="822" y="959.4" width="1" height="9.2" fill="#666" fill-opacity="0.6"/>
<g transform="translate(484,964.2) rotate(180)"><text x="0" y="0" font-size="14.5" font-weight="bold" fill="#e6e6e6" textLength="73" lengthAdjust="spacingAndGlyphs">NEEWER</text></g>
<g transform="translate(394.0,965.5) rotate(180)"><text x="0" y="0" font-size="11.5" font-weight="bold" fill="#d8d8d8" textLength="61.5" lengthAdjust="spacingAndGlyphs">MS-300CM</text></g>
<ellipse cx="622.5" cy="1186" rx="417.5" ry="5.5" fill="#000" opacity="0.55" filter="url(#shBlur)"/>
<ellipse cx="397.5" cy="1186" rx="182.5" ry="4.5" fill="#000" opacity="0.75" filter="url(#shBlur)"/>
<rect x="191" y="1137.5" width="15" height="17" rx="2" fill="url(#sscrewG)"/><rect x="193" y="1137.5" width="1.1" height="17" fill="#666" fill-opacity="0.55"/><rect x="196" y="1137.5" width="1.1" height="17" fill="#666" fill-opacity="0.55"/><rect x="199" y="1137.5" width="1.1" height="17" fill="#666" fill-opacity="0.55"/><rect x="202" y="1137.5" width="1.1" height="17" fill="#666" fill-opacity="0.55"/><rect x="205" y="1137.5" width="1.1" height="17" fill="#666" fill-opacity="0.55"/>
<path d="M214,1109 H242 V1183 H214 Q205,1183 205,1173 V1119 Q205,1109 214,1109 Z" fill="url(#capG)"/><rect x="211" y="1133.53" width="31" height="24.94" fill="#080808"/><rect x="217" y="1135.53" width="34" height="20.94" fill="#343434"/><rect x="224.24" y="1110" width="1.2" height="23.53" fill="#000" fill-opacity="0.35"/><rect x="224.24" y="1158.47" width="1.2" height="23.53" fill="#000" fill-opacity="0.35"/>
<rect x="241" y="1108" width="331" height="78" fill="url(#bodyG)"/>
<rect x="241" y="1117.36" width="331" height="57.72" fill="url(#bodyHL)"/>
<rect x="545" y="1110" width="27" height="75" fill="#141414" fill-opacity="0.8"/>
<rect x="571.5" y="1120.6" width="158.5" height="53.40000000000009" fill="url(#cfG)"/><rect x="571.5" y="1120.6" width="158.5" height="53.40000000000009" fill="url(#cf2a)"/>
<rect x="730" y="1123" width="239.60000000000002" height="47" fill="url(#cfG)"/><rect x="730" y="1123" width="239.60000000000002" height="47" fill="url(#cf2b)"/>
<rect x="727.5" y="1120.6" width="2.5" height="53.4" fill="#1a1a1a"/>
<rect x="969.6" y="1121.5" width="10.5" height="49.59999999999991" fill="#101010"/><circle cx="974.85" cy="1134.5" r="1.6" fill="#ddd"/><circle cx="974.85" cy="1139.5" r="1.3" fill="#ddd"/><circle cx="974.85" cy="1143.5" r="1.2" fill="#ddd"/><circle cx="974.85" cy="1147.5" r="1.3" fill="#ddd"/><circle cx="974.85" cy="1152.5" r="1.6" fill="#ddd"/><rect x="980.1" y="1119.5" width="25" height="53.59999999999991" rx="3" fill="url(#sknobG)"/><rect x="980.1" y="1119.5" width="25" height="53.59999999999991" rx="3" fill="url(#sknurl)"/><rect x="1005.1" y="1138.9" width="14" height="9.2" rx="1.5" fill="url(#sscrewG)"/><rect x="1007.1" y="1138.9" width="1" height="9.2" fill="#666" fill-opacity="0.6"/><rect x="1010.1" y="1138.9" width="1" height="9.2" fill="#666" fill-opacity="0.6"/><rect x="1013.1" y="1138.9" width="1" height="9.2" fill="#666" fill-opacity="0.6"/><rect x="1016.1" y="1138.9" width="1" height="9.2" fill="#666" fill-opacity="0.6"/>
<g transform="translate(322,1149.5)"><text x="0" y="0" font-size="14.5" font-weight="bold" fill="#e6e6e6" textLength="68" lengthAdjust="spacingAndGlyphs">NEEWER</text></g>
<g transform="translate(407,1148.3)"><text x="0" y="0" font-size="11.5" font-weight="bold" fill="#d8d8d8" textLength="57" lengthAdjust="spacingAndGlyphs">MS-300CM</text></g>
<ellipse cx="810.0" cy="1366" rx="620.0" ry="5.5" fill="#000" opacity="0.55" filter="url(#shBlur)"/>
<ellipse cx="392.5" cy="1365" rx="197.5" ry="4.5" fill="#000" opacity="0.75" filter="url(#shBlur)"/>
<rect x="194.4" y="1288" width="353.6" height="76" fill="url(#bodyG)"/>
<rect x="194.4" y="1297.12" width="353.6" height="56.24" fill="url(#bodyHLr)"/>
<path d="M202,1288 H220 V1364 H202 Q194,1364 194,1356 V1296 Q194,1288 202,1288 Z" fill="#161616"/>
<path d="M546,1287 H572.6 Q579.6,1287 579.6,1296 V1356 Q579.6,1365 572.6,1365 H546 Z" fill="url(#capG)"/><rect x="542" y="1312.91" width="27.600000000000023" height="26.18" fill="#080808"/><rect x="538" y="1314.91" width="29.600000000000023" height="22.18" fill="#363636"/><rect x="561.12" y="1339.09" width="1.2" height="24.91" fill="#000" fill-opacity="0.35"/>
<rect x="579.5" y="1298.6" width="232.5" height="56.4" fill="url(#sleeveG)"/>
<rect x="812" y="1299" width="294" height="55" fill="url(#cfG)"/><rect x="812" y="1299" width="294" height="55" fill="url(#cf3a)"/>
<rect x="1106" y="1302.5" width="253" height="46.5" fill="url(#cfG)"/><rect x="1106" y="1302.5" width="253" height="46.5" fill="url(#cf3b)"/>
<rect x="1103.5" y="1299" width="2.5" height="55" fill="#1a1a1a"/>
<rect x="1359" y="1299.5" width="11" height="53" fill="#101010"/><circle cx="1364.5" cy="1315.5" r="1.6" fill="#ddd"/><circle cx="1364.5" cy="1320.5" r="1.3" fill="#ddd"/><circle cx="1364.5" cy="1324.5" r="1.2" fill="#ddd"/><circle cx="1364.5" cy="1328.5" r="1.3" fill="#ddd"/><circle cx="1364.5" cy="1333.5" r="1.6" fill="#ddd"/><rect x="1370" y="1297.5" width="27.5" height="57" rx="3" fill="url(#sknobG)"/><rect x="1370" y="1297.5" width="27.5" height="57" rx="3" fill="url(#sknurl)"/><rect x="1397.5" y="1319.9" width="13.5" height="9.2" rx="1.5" fill="url(#sscrewG)"/><rect x="1399.5" y="1319.9" width="1" height="9.2" fill="#666" fill-opacity="0.6"/><rect x="1402.5" y="1319.9" width="1" height="9.2" fill="#666" fill-opacity="0.6"/><rect x="1405.5" y="1319.9" width="1" height="9.2" fill="#666" fill-opacity="0.6"/><rect x="1408.5" y="1319.9" width="1" height="9.2" fill="#666" fill-opacity="0.6"/>
<g transform="translate(452.7,1313) rotate(180)"><text x="0" y="0" font-size="14.5" font-weight="bold" fill="#e6e6e6" textLength="69.7" lengthAdjust="spacingAndGlyphs">NEEWER</text></g>
<g transform="translate(364,1315.5) rotate(180)"><text x="0" y="0" font-size="11.5" font-weight="bold" fill="#d8d8d8" textLength="59" lengthAdjust="spacingAndGlyphs">MS-300CM</text></g>
<path d="M187.5,1022 V1047.5 H375" fill="none" stroke="#111" stroke-width="2" stroke-dasharray="7.5 4.5"/>
<path d="M391,1047.5 L373,1040.7 L373,1054.3 Z" fill="#111"/>
<path d="M835.4,1021 V1047.5 H629" fill="none" stroke="#111" stroke-width="2" stroke-dasharray="7.5 4.5"/>
<path d="M611,1047.5 L629,1040.7 L629,1054.3 Z" fill="#111"/>
<text x="430.5" y="1059" font-size="33.5" fill="#111" stroke="#111" stroke-width="0.7" textLength="135" lengthAdjust="spacingAndGlyphs">13&#8243; / 33cm</text>
<path d="M187.5,1200 V1225.5 H491" fill="none" stroke="#111" stroke-width="2" stroke-dasharray="7.5 4.5"/>
<path d="M507.5,1225.5 L489.5,1218.7 L489.5,1232.3 Z" fill="#111"/>
<path d="M1019.4,1199 V1225.5 H759" fill="none" stroke="#111" stroke-width="2" stroke-dasharray="7.5 4.5"/>
<path d="M741.5,1225.5 L759.5,1218.7 L759.5,1232.3 Z" fill="#111"/>
<text x="559" y="1236.6" font-size="33.5" fill="#111" stroke="#111" stroke-width="0.7" textLength="140" lengthAdjust="spacingAndGlyphs">22&#8243; / 56cm</text>
<path d="M188,1384 V1457.8 H728" fill="none" stroke="#111" stroke-width="2" stroke-dasharray="7.5 4.5"/>
<path d="M745,1457.8 L727,1451.0 L727,1464.6 Z" fill="#111"/>
<path d="M188,1410.7 H292" fill="none" stroke="#111" stroke-width="2" stroke-dasharray="7.5 4.5"/>
<path d="M309,1410.7 L291,1403.9 L291,1417.5 Z" fill="#111"/>
<path d="M572.3,1384 V1410.7 H498" fill="none" stroke="#111" stroke-width="2" stroke-dasharray="7.5 4.5"/>
<path d="M480.4,1410.7 L498.4,1403.9 L498.4,1417.5 Z" fill="#111"/>
<path d="M1411,1376 V1457.8 H970" fill="none" stroke="#111" stroke-width="2" stroke-dasharray="7.5 4.5"/>
<path d="M952.5,1457.8 L970.5,1451.0 L970.5,1464.6 Z" fill="#111"/>
<text x="327" y="1422" font-size="33.5" fill="#111" stroke="#111" stroke-width="0.7" textLength="129.5" lengthAdjust="spacingAndGlyphs">3.1&#8243; / 8cm</text>
<text x="779.5" y="1467.5" font-size="33.5" fill="#111" stroke="#111" stroke-width="0.7" textLength="139.5" lengthAdjust="spacingAndGlyphs">29&#8243; / 74cm</text>
<text x="331.5" y="162.5" font-size="86.5" font-weight="bold" fill="#050505" text-anchor="start" textLength="946.5" lengthAdjust="spacingAndGlyphs" stroke="#050505" stroke-width="3.4" stroke-linejoin="miter">TWO TELESCOPIC SECTIONS</text>
<text x="137" y="230" font-size="33.5" font-weight="normal" fill="#1a1a1a" text-anchor="start" textLength="1327" lengthAdjust="spacingAndGlyphs" stroke="#1a1a1a" stroke-width="0.4">Two telescopic sections provide a 13&#8243;-29&#8243;/33-74cm length adjustment range. Simply twist the pole to</text>
<text x="616" y="275" font-size="33.5" font-weight="normal" fill="#1a1a1a" text-anchor="start" textLength="368" lengthAdjust="spacingAndGlyphs" stroke="#1a1a1a" stroke-width="0.4">extend, collapse, and fasten</text>
<circle cx="329" cy="448.6" r="38" fill="#ffffff" opacity="0.9"/><circle cx="329" cy="448.6" r="36" fill="#3b8ff0"/><rect x="310.4" y="442.6" width="37.200000000000045" height="29.0" rx="3" fill="none" stroke="#fff" stroke-width="2.2"/><path d="M340.5,442.6 V438.6 A11,11 0 0 0 318.5,434.1" fill="none" stroke="#fff" stroke-width="2.2" stroke-linecap="round"/><circle cx="329" cy="454.1" r="4.3" fill="none" stroke="#fff" stroke-width="2.2"/><path d="M329,458.6 V464.1" stroke="#fff" stroke-width="2.2" stroke-linecap="round"/>
<text x="378.5" y="466" font-size="47.5" font-weight="normal" fill="#0a0a0a" text-anchor="start" textLength="146.5" lengthAdjust="spacingAndGlyphs" stroke="#0a0a0a" stroke-width="1.3">Release</text>
<circle cx="1275.8" cy="761.7" r="38" fill="#ffffff" opacity="0.9"/><circle cx="1275.8" cy="761.7" r="36" fill="#3b8ff0"/><rect x="1257.2" y="755.7" width="37.19999999999982" height="29.0" rx="3" fill="none" stroke="#fff" stroke-width="2.2"/><path d="M1264.3999999999999,755.7 V751.7 A11.4,11.4 0 0 1 1287.2,751.7 V755.7" fill="none" stroke="#fff" stroke-width="2.2"/><circle cx="1275.8" cy="767.2" r="4.3" fill="none" stroke="#fff" stroke-width="2.2"/><path d="M1275.8,771.7 V777.2" stroke="#fff" stroke-width="2.2" stroke-linecap="round"/>
<text x="1330.5" y="779.6" font-size="47.5" font-weight="normal" fill="#0a0a0a" text-anchor="start" textLength="85" lengthAdjust="spacingAndGlyphs" stroke="#0a0a0a" stroke-width="1.3">Lock</text>
</svg>
</body></html>
